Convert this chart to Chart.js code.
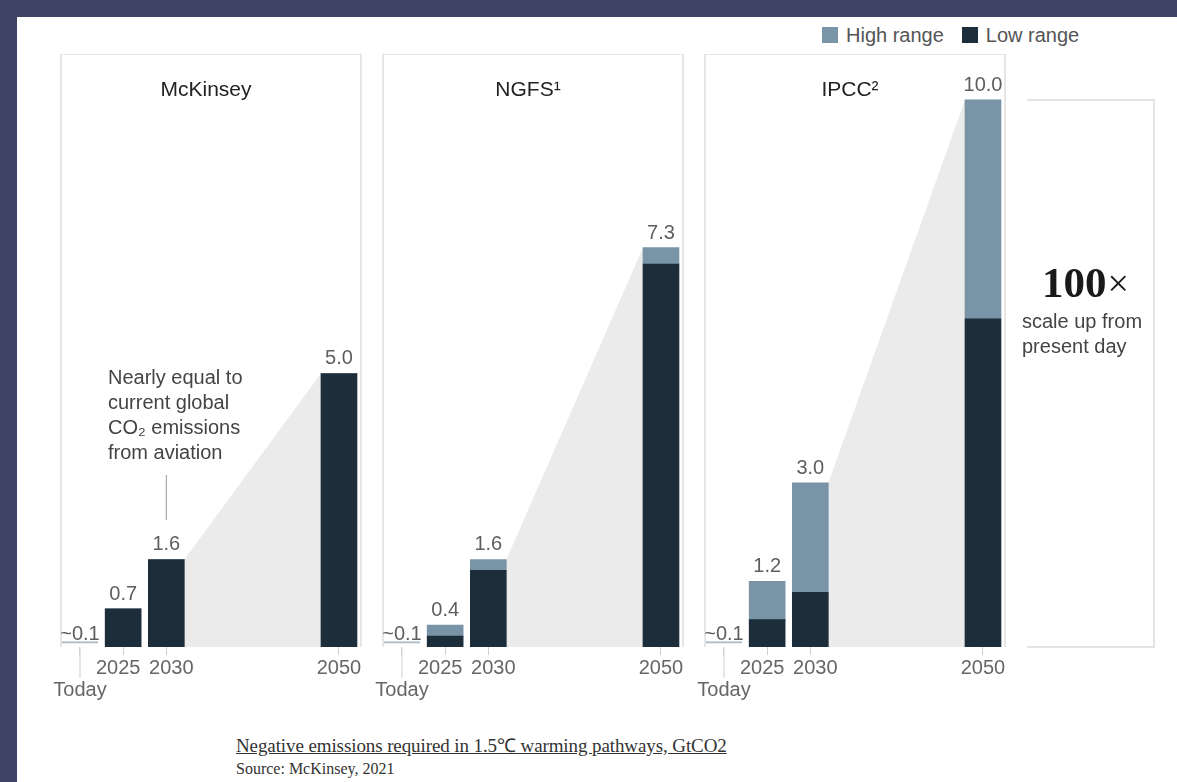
<!DOCTYPE html>
<html>
<head>
<meta charset="utf-8">
<script src="https://cdn.jsdelivr.net/npm/chart.js@4"></script>
<style>
  body { margin: 0; width: 1177px; height: 782px; background: #3c4363; overflow: hidden;
         font-family: 'Liberation Sans', Arial, sans-serif; }
  #sheet { position: absolute; left: 17px; top: 17px; width: 1160px; height: 765px; background: #fff; }
  canvas { position: absolute; }
  #legend { position: absolute; left: 822px; top: 24px; font-size: 20px; color: #555;
            display: flex; align-items: center; height: 22px; }
  #legend .sw { display: inline-block; width: 16px; height: 16px; margin-right: 8px; }
  #caption { position: absolute; left: 236px; top: 732px; font-family: 'Liberation Serif', serif;
             font-size: 19px; letter-spacing: -0.1px; color: #333; text-decoration: underline; }
  #source { position: absolute; left: 236px; top: 760px; font-family: 'Liberation Serif', serif;
            font-size: 16px; color: #333; }
</style>
</head>
<body>
<div id="sheet"></div>
<div id="legend">
  <span class="sw" style="background:#7894a6"></span>High range
  <span class="sw" style="background:#1e2d3a;margin-left:18px"></span>Low range
</div>
<canvas id="c1" width="360" height="653" style="left:31px;top:54px"></canvas>
<canvas id="c2" width="360" height="653" style="left:353px;top:54px"></canvas>
<canvas id="c3" width="495" height="653" style="left:675px;top:54px"></canvas>
<div id="caption">Negative emissions required in 1.5℃ warming pathways, GtCO2</div>
<div id="source">Source: McKinsey, 2021</div>

<script>
// data (GtCO2)
const tickYears = [2020, 2025, 2030, 2050];   // "Today" sits at 2020
const tickNames = ['Today', '2025', '2030', '2050'];
const barYears = [2025, 2030, 2050];
const todayValue = 0.1;

const mckLow = [0.7, 1.6, 5.0];
const mckHigh = [0, 0, 0];
const mckLabels = ['~0.1', '0.7', '1.6', '5.0'];

const ngfsLow = [0.2, 1.4, 7.0];
const ngfsHigh = [0.2, 0.2, 0.3];
const ngfsLabels = ['~0.1', '0.4', '1.6', '7.3'];

const ipccLow = [0.5, 1.0, 6.0];
const ipccHigh = [0.7, 2.0, 4.0];
const ipccLabels = ['~0.1', '1.2', '3.0', '10.0'];

const LOW_COLOR = '#1e2d3a';
const HIGH_COLOR = '#7894a6';
const FONT = "'Liberation Sans', Arial, sans-serif";

Chart.defaults.font.family = FONT;

// extra drawing per canvas (kept out of the options so chart.js doesn't resolve it)
const extras = {};

const panelDecor = {
    id: 'panelDecor',
    beforeDatasetsDraw(chart) {
        const ctx = chart.ctx;
        const a = chart.chartArea;
        const x = chart.scales.x;
        const o = chart.options.plugins.panelDecor;
        ctx.save();
        // frame
        ctx.strokeStyle = '#dedede';
        ctx.lineWidth = 1.5;
        ctx.beginPath();
        ctx.moveTo(a.left, a.bottom);
        ctx.lineTo(a.left, a.top);
        ctx.lineTo(a.right, a.top);
        ctx.lineTo(a.right, a.bottom);
        ctx.stroke();
        // grey wedge from 2030 bar to 2050 bar
        const bars = chart.getDatasetMeta(2).data;
        const b1 = bars[1], b2 = bars[2];
        ctx.fillStyle = '#ebebeb';
        ctx.beginPath();
        ctx.moveTo(b1.x + b1.width / 2, b1.y);
        ctx.lineTo(b2.x - b2.width / 2, b2.y);
        ctx.lineTo(b2.x - b2.width / 2, a.bottom);
        ctx.lineTo(b1.x + b1.width / 2, a.bottom);
        ctx.closePath();
        ctx.fill();
        // title
        ctx.fillStyle = '#222';
        ctx.font = '21px ' + FONT;
        ctx.textAlign = 'center';
        ctx.textBaseline = 'middle';
        ctx.fillText(o.title, (a.left + a.right) / 2 - 5, a.top + 36);
        // longer tick under "Today"
        const tx = x.getPixelForValue(tickYears[0]);
        ctx.strokeStyle = '#d0d0d0';
        ctx.lineWidth = 1;
        ctx.beginPath();
        ctx.moveTo(tx, a.bottom);
        ctx.lineTo(tx, a.bottom + 31);
        ctx.stroke();
        ctx.restore();
    },
    afterDatasetsDraw(chart) {
        const ctx = chart.ctx;
        const o = chart.options.plugins.panelDecor;
        ctx.save();
        ctx.fillStyle = '#5e5e5e';
        ctx.font = '20px ' + FONT;
        ctx.textAlign = 'center';
        ctx.textBaseline = 'alphabetic';
        const today = chart.getDatasetMeta(0).data[0];
        ctx.fillText(o.labels[0], today.x, today.y - 2);
        chart.getDatasetMeta(2).data.forEach((el, i) => {
            ctx.fillText(o.labels[i + 1], el.x, el.y - 9);
        });
        const extra = extras[chart.canvas.id];
        if (extra) extra(chart, ctx);
        ctx.restore();
    }
};

function aviationNote(chart, ctx) {
    const a = chart.chartArea;
    const x = chart.scales.x;
    ctx.fillStyle = '#444';
    ctx.font = '20px ' + FONT;
    ctx.textAlign = 'left';
    ctx.textBaseline = 'middle';
    ['Nearly equal to', 'current global', 'CO\u2082 emissions', 'from aviation'].forEach((t, i) => {
        ctx.fillText(t, a.left + 47, a.top + 324 + i * 25);
    });
    const cx = x.getPixelForValue(2030);
    ctx.strokeStyle = '#999';
    ctx.lineWidth = 1;
    ctx.beginPath();
    ctx.moveTo(cx, a.top + 421);
    ctx.lineTo(cx, a.top + 466);
    ctx.stroke();
}

function scaleUpNote(chart, ctx) {
    const a = chart.chartArea;
    const y = chart.scales.y;
    const top = y.getPixelForValue(ipccLow[2] + ipccHigh[2]);
    const l = a.right + 22, r = a.right + 149;
    ctx.strokeStyle = '#dcdcdc';
    ctx.lineWidth = 1.5;
    ctx.beginPath();
    ctx.moveTo(l, top);
    ctx.lineTo(r, top);
    ctx.lineTo(r, a.bottom);
    ctx.lineTo(l, a.bottom);
    ctx.stroke();

    ctx.fillStyle = '#1a1a1a';
    ctx.textBaseline = 'alphabetic';
    ctx.textAlign = 'left';
    const big = "bold 43px 'Liberation Serif', serif";
    const small = "38px 'Liberation Serif', serif";
    ctx.font = big;
    const w1 = ctx.measureText('100').width;
    ctx.font = small;
    const w2 = ctx.measureText('\u00d7').width;
    const sx = a.right + 80 - (w1 + w2) / 2;
    ctx.font = big;
    ctx.fillText('100', sx, a.top + 243);
    ctx.font = small;
    ctx.fillText('\u00d7', sx + w1 + 1, a.top + 242);

    ctx.fillStyle = '#444';
    ctx.font = '20px ' + FONT;
    ctx.textBaseline = 'middle';
    ctx.fillText('scale up from', a.right + 17, a.top + 268);
    ctx.fillText('present day', a.right + 17, a.top + 293);
}

// 2025 and 2030 labels are nudged apart as in the original
function tickText(v, i) {
    if (i === 0) return ['', tickNames[0]];
    if (i === 1) return tickNames[1] + '\u2002';
    if (i === 2) return '\u2002' + tickNames[2];
    return tickNames[i];
}

function makePanel(id, title, low, high, labels, padRight, extra) {
    extras[id] = extra;
    return new Chart(document.getElementById(id), {
        type: 'bar',
        plugins: [panelDecor],
        data: {
            datasets: [
            {
                label: 'Today',
                data: [{x: tickYears[0], y: todayValue}],
                backgroundColor: 'rgba(255,255,255,0)',
                borderColor: '#a9bccb',
                borderWidth: {top: 1.5, left: 0, right: 0, bottom: 0},
                borderSkipped: false,
                stack: 's'
            },
            {
                label: 'Low range',
                data: barYears.map((yr, i) => ({x: yr, y: low[i]})),
                backgroundColor: LOW_COLOR,
                stack: 's'
            },
            {
                label: 'High range',
                data: barYears.map((yr, i) => ({x: yr, y: high[i]})),
                backgroundColor: HIGH_COLOR,
                stack: 's'
            }]
        },
        options: {
            responsive: false,
            animation: false,
            devicePixelRatio: 1,
            barThickness: 36,
            layout: {padding: {left: 30, right: padRight, top: 0, bottom: 0}},
            scales: {
                x: {
                    type: 'linear',
                    min: 2017.8,
                    max: 2052.55,
                    offset: false,
                    afterBuildTicks: s => { s.ticks = tickYears.map(v => ({value: v})); },
                    afterFit: s => { s.height = 60; },
                    grid: {drawOnChartArea: false, drawTicks: true, tickLength: 8, color: '#cfcfcf', offset: false},
                    border: {display: false},
                    ticks: {
                        autoSkip: false,
                        maxRotation: 0,
                        padding: 2,
                        color: '#666',
                        font: {size: 20, lineHeight: 1.1},
                        callback: tickText
                    }
                },
                y: {display: false, stacked: true, min: 0, max: 10.84}
            },
            plugins: {
                legend: {display: false},
                tooltip: {enabled: false},
                panelDecor: {title: title, labels: labels}
            }
        }
    });
}

makePanel('c1', 'McKinsey', mckLow, mckHigh, mckLabels, 30, aviationNote);
makePanel('c2', 'NGFS\u00b9', ngfsLow, ngfsHigh, ngfsLabels, 30, null);
makePanel('c3', 'IPCC\u00b2', ipccLow, ipccHigh, ipccLabels, 165, scaleUpNote);
</script>
</body>
</html>
